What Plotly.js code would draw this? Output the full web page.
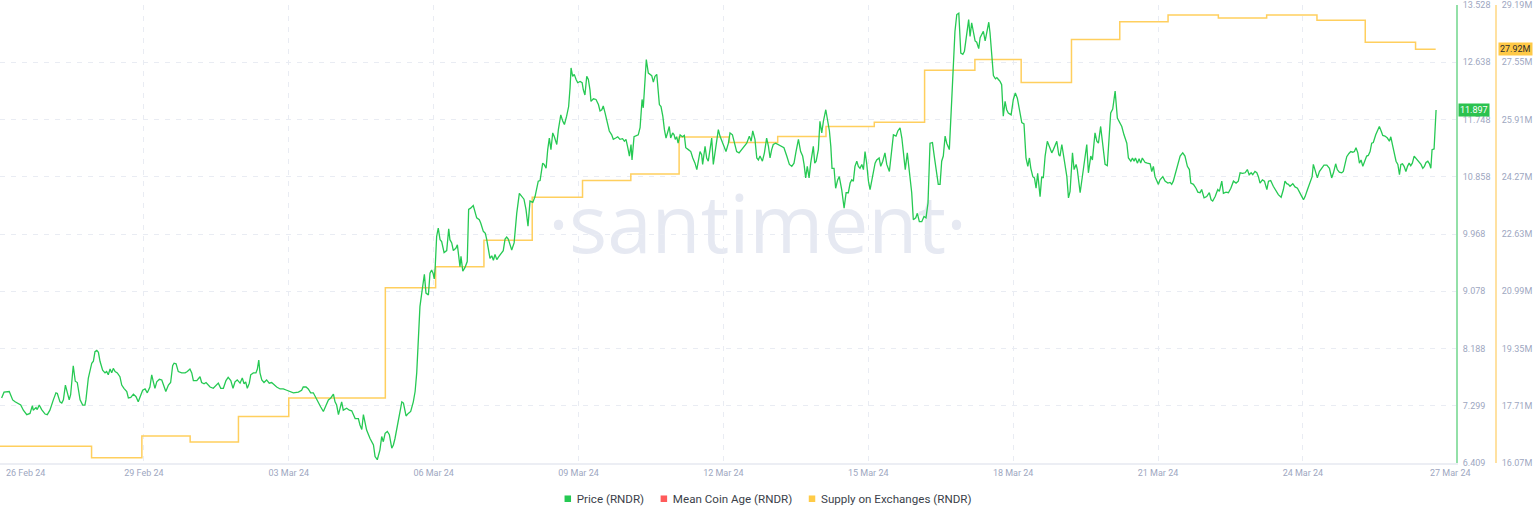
<!DOCTYPE html>
<html>
<head>
<meta charset="utf-8">
<script src="https://cdn.plot.ly/plotly-3.0.1.min.js"></script>
<style>
html,body{margin:0;padding:0;background:#fff;}
#chart{width:1536px;height:520px;}
</style>
</head>
<body>
<div id="chart"></div>
<script>
// ---- Data (hours after 2024-02-26 00:00 UTC) ----
const startDate = '2024-02-26';

const priceHours = [1.3,2.5,5.1,6.8,8.0,10.8,12.1,13.8,15.4,16.6,17.0,18.4,19.0,20.0,21.2,22.9,24.0,25.3,27.0,28.3,29.0,30.3,31.2,32.0,33.0,34.1,34.9,35.6,36.9,37.9,38.9,40.3,41.6,42.7,43.2,44.4,46.1,46.9,47.7,48.6,49.4,50.2,51.5,52.7,53.5,54.3,55.2,56.0,56.8,57.7,58.8,60.1,61.0,62.1,63.5,64.3,65.5,66.8,68.1,69.2,70.1,71.4,72.6,73.7,75.0,75.9,76.7,77.5,78.4,79.7,80.9,81.7,82.9,84.2,85.3,86.3,87.0,88.0,89.1,90.8,92.5,93.6,94.9,95.8,96.6,98.3,99.1,99.9,100.7,101.9,102.9,104.0,104.9,106.5,108.2,109.0,110.2,111.5,112.8,113.9,115.2,116.3,117.3,118.4,119.8,120.9,121.8,122.6,123.4,124.4,125.1,126.4,127.7,128.4,129.1,129.7,130.6,131.7,133.0,134.3,135.5,136.7,138.0,139.7,141.3,143.0,144.6,146.3,148.8,150.4,151.2,152.6,153.7,154.9,156.2,157.1,158.2,159.9,161.2,162.5,163.7,164.9,166.2,167.0,167.8,168.7,170.3,171.1,172.8,174.1,175.3,177.0,178.6,179.4,180.3,181.1,182.7,184.4,186.1,186.9,188.0,189.3,190.2,191.0,191.9,193.0,194.0,195.2,196.0,196.8,198.0,199.0,200.2,201.0,202.3,203.4,204.6,205.9,206.8,207.6,208.4,208.9,
209.2,210.1,210.9,211.4,212.2,213.4,214.2,215.0,215.8,216.3,216.8,217.5,218.3,219.2,220.0,221.2,222.5,223.5,224.1,225.0,225.8,227.1,227.8,228.3,229.1,229.6,230.5,231.6,232.7,233.4,234.4,235.7,236.6,237.4,238.7,239.4,240.7,241.7,242.4,243.2,244.0,244.9,245.7,246.5,247.4,248.2,249.3,250.6,251.5,252.3,253.1,254.0,254.8,256.0,257.3,258.6,259.8,260.9,261.9,262.9,263.9,265.3,266.4,267.3,268.0,268.9,269.4,270.2,270.9,271.9,272.7,273.5,274.3,275.2,276.0,277.2,278.0,279.2,280.2,281.0,282.1,283.1,283.8,284.3,285.1,285.9,286.8,287.6,288.8,289.8,290.4,291.2,292.1,292.9,293.7,294.2,295.4,296.7,297.9,298.7,299.6,300.3,301.2,302.3,303.3,304.5,305.3,306.5,307.5,308.6,309.9,310.8,311.6,312.5,313.3,314.1,314.6,315.6,316.9,317.7,318.6,319.6,320.2,321.1,321.7,322.7,323.5,324.4,325.2,326.0,326.9,327.7,328.2,329.0,329.9,330.7,331.5,332.5,333.1,333.8,334.8,335.5,336.1,336.8,337.5,338.5,339.6,340.6,341.3,342.6,343.8,344.8,345.9,346.8,347.6,348.4,349.2,349.7,350.9,351.7,352.5,353.4,354.2,355.0,355.9,356.7,357.5,358.3,359.2,360.3,361.3,362.5,363.3,364.5,365.8,366.6,367.8,369.1,370.3,371.6,372.9,373.8,374.6,375.7,376.6,377.4,378.2,379.4,380.4,381.5,382.4,383.2,384.0,384.8,386.0,387.3,389.0,390.1,391.5,392.8,394.0,395.1,396.1,397.3,398.4,399.4,400.1,400.9,401.7,402.6,403.4,404.1,404.7,405.4,406.1,407.2,408.0,408.9,409.7,410.9,411.7,412.7,413.4,414.0,415.0,415.8,416.8,417.6,418.8,420.0,421.0,422.1,423.0,423.8,424.6,425.4,426.3,427.1,427.9,428.8,429.6,430.4,431.2,432.1,432.9,433.7,434.5,435.4,436.2,437.4,438.2,439.2,440.3,441.2,442.5,443.7,444.5,445.8,446.7,447.8,448.7,449.5,450.4,451.4,452.4,453.6,454.4,455.6,456.4,457.4,458.6,459.7,460.7,461.7,462.7,463.9,464.8,466.0,466.8,467.7,468.5,469.3,470.2,471.0,472.3,473.5,474.3,475.1,476.0,477.0,478.0,479.0,479.8,480.9,481.9,482.6,483.4,484.2,485.1,485.9,486.9,487.6,488.6,489.2,490.1,490.9,491.9,492.5,493.4,494.2,495.2,495.9,496.7,497.5,498.3,499.1,500.0,500.8,501.6,503.0,504.1,505.1,506.1,507.1,508.3,509.4,510.4,511.3,512.1,512.8,513.8,514.6,515.4,516.2,517.4,518.2,519.0,519.9,521.0,522.0,523.2,524.0,524.8,525.7,526.7,527.3,528.2,529.0,530.0,530.7,531.5,532.3,533.5,534.3,535.3,535.9,537.3,538.1,538.9,539.7,540.6,541.4,542.6,543.4,543.9,544.7,545.6,546.4,547.5,548.5,549.7,550.8,551.8,552.5,553.5,554.7,555.8,557.1,558.0,559.1,560.5,561.3,562.5,563.3,564.1,564.8,565.8,566.6,567.4,568.2,569.6,570.7,572.1,572.9,573.7,574.5,575.4,576.2,577.0,578.4,579.5,580.9,582.0,582.8,583.6,584.5,585.6,587.0,588.3,589.4,590.6,591.6,592.3,593.6,594.9,595.8,596.9,597.7,598.9,600.2,601.5,602.4,603.2,604.4,605.7,606.5,607.7,608.5,609.8,611.0,612.2,613.5,614.8,615.9,616.8,618.1,619.3,620.4,621.3,622.3,623.1,624.2,625.1,625.9,626.7,627.9,628.9,630.1,630.9,632.0,633.3,634.7,635.8,637.2,638.3,639.1,640.0,640.8,641.6,643.0,644.1,645.3,646.3,647.5,648.3,649.1,650.3,651.6,652.6,653.2,654.1,655.2,656.2,657.4,658.5,659.9,661.2,662.3,663.2,664.3,665.1,666.1,667.3,668.1,668.9,669.8,670.9,671.8,672.8,673.6,674.4,675.3,676.1,676.9,677.8,678.9,679.7,680.5,681.4,682.2,683.0,684.2,685.2,686.0,686.9,687.7,688.8,690.0,691.0,691.7,692.7,693.5,694.3,695.2,696.0,696.7,697.5,698.3,699.2,700.0,700.8,701.6,702.4,703.3,704.2,705.1,705.9,706.7,707.6,708.4,709.2,710.1,710.9,711.6,712.2,713.2,714.2];

const priceValues = [7.42,7.51,7.52,7.39,7.36,7.31,7.23,7.16,7.18,7.30,7.23,7.27,7.24,7.31,7.24,7.17,7.16,7.23,7.39,7.50,7.49,7.36,7.34,7.39,7.62,7.47,7.39,7.47,7.92,7.68,7.66,7.39,7.31,7.31,7.39,7.73,7.96,7.99,8.14,8.16,8.13,7.99,7.85,7.81,7.83,7.78,7.87,7.81,7.88,7.83,7.81,7.75,7.62,7.57,7.52,7.42,7.43,7.48,7.44,7.36,7.44,7.54,7.56,7.50,7.59,7.78,7.67,7.57,7.67,7.71,7.70,7.62,7.52,7.62,7.66,7.92,7.96,7.95,7.83,7.81,7.81,7.83,7.87,7.81,7.69,7.69,7.73,7.75,7.66,7.64,7.66,7.62,7.59,7.57,7.62,7.65,7.57,7.57,7.69,7.74,7.69,7.57,7.67,7.70,7.65,7.73,7.64,7.67,7.57,7.65,7.78,7.81,7.81,7.87,8.01,7.81,7.70,7.66,7.70,7.65,7.66,7.62,7.59,7.56,7.56,7.54,7.52,7.50,7.51,7.54,7.59,7.59,7.56,7.50,7.50,7.44,7.39,7.28,7.21,7.31,7.39,7.42,7.48,7.36,7.31,7.16,7.36,7.23,7.26,7.23,7.22,7.10,7.10,7.00,6.93,7.16,6.92,6.79,6.69,6.51,6.46,6.61,6.82,6.74,6.87,6.90,6.85,6.64,6.69,6.79,7.00,7.21,7.36,7.34,7.14,7.18,7.21,7.36,7.52,7.81,8.27,8.48,
8.84,9.05,9.23,9.34,9.05,9.02,9.36,9.41,9.35,9.27,9.46,9.93,10.06,9.88,9.85,9.68,9.71,10.05,9.88,9.83,9.71,9.75,9.80,9.65,9.46,9.62,9.39,9.45,9.54,10.35,10.37,10.41,10.32,10.22,10.19,10.14,10.01,9.98,9.88,9.70,9.59,9.63,9.56,9.65,9.57,9.61,9.66,9.71,9.89,9.92,9.89,9.78,9.72,9.83,10.29,10.60,10.56,10.51,10.35,10.09,10.48,10.46,10.55,10.71,10.79,10.80,10.92,11.07,11.05,10.99,11.28,11.46,11.28,11.54,11.48,11.36,11.59,11.82,11.72,11.67,11.80,11.95,12.24,12.55,12.42,12.45,12.37,12.32,12.34,12.32,12.21,12.13,12.42,12.37,12.21,12.03,12.07,12.06,11.98,11.88,11.90,11.96,11.85,11.72,11.57,11.51,11.44,11.46,11.48,11.44,11.45,11.41,11.44,11.31,11.18,11.36,11.12,11.48,11.50,11.51,11.62,12.06,11.93,12.37,12.68,12.47,12.45,12.43,12.33,12.42,12.45,12.21,11.98,11.95,11.80,11.59,11.46,11.57,11.64,11.46,11.54,11.51,11.44,11.48,11.38,11.51,11.48,11.50,11.31,11.28,11.25,11.15,11.07,10.97,11.12,11.25,11.20,11.05,11.33,11.15,11.10,11.28,11.46,11.05,11.23,11.38,11.59,11.49,11.41,11.33,11.25,11.38,11.54,11.51,11.36,11.25,11.23,11.28,11.33,11.38,11.49,11.41,11.57,11.44,11.15,11.12,11.18,11.10,11.23,11.46,11.33,11.15,11.28,11.36,11.38,11.36,11.33,11.31,11.18,11.05,11.02,11.07,11.25,11.44,11.25,11.18,11.05,10.84,11.02,10.84,11.07,11.23,11.33,11.07,11.10,11.28,11.72,11.54,11.72,11.90,11.75,11.57,11.33,10.99,10.99,10.68,10.81,10.86,10.66,10.37,10.61,10.61,10.76,10.81,10.79,11.02,11.10,11.02,10.99,11.05,10.97,11.25,11.07,10.79,10.66,10.79,10.92,11.07,11.12,11.15,11.02,11.10,11.23,11.05,10.94,11.28,11.51,11.49,11.57,11.62,11.46,11.23,10.97,11.23,10.92,10.61,10.19,10.22,10.29,10.16,10.16,10.24,10.22,10.45,11.38,11.39,11.18,10.92,10.74,10.74,11.10,11.18,11.49,11.38,11.28,12.06,12.58,13.12,13.38,13.40,12.78,12.76,12.81,13.04,13.30,13.04,13.25,13.12,12.97,12.95,12.85,13.02,13.10,13.12,12.97,13.10,13.26,13.10,12.71,12.43,12.38,12.40,12.37,12.34,12.29,11.80,12.03,11.90,11.85,11.82,12.06,12.16,12.08,11.88,11.70,11.68,11.15,11.02,11.15,10.99,10.86,10.84,10.68,10.91,10.55,10.86,10.84,11.18,11.41,11.33,11.23,11.28,11.33,11.41,11.20,11.18,11.36,11.18,10.97,10.86,10.53,10.63,11.23,10.97,11.05,10.97,10.61,10.81,11.02,11.18,11.36,10.92,11.18,11.12,11.25,11.54,11.41,11.38,11.64,11.33,11.05,11.03,11.64,11.85,11.91,12.19,11.77,11.70,11.64,11.51,11.38,11.15,11.10,11.15,11.10,11.15,11.07,11.14,11.07,11.15,11.08,11.07,11.06,10.94,11.02,10.86,10.79,10.74,10.81,10.86,10.79,10.76,10.77,10.74,10.79,10.89,11.02,11.18,11.23,11.18,11.02,10.97,10.76,10.74,10.68,10.62,10.61,10.66,10.53,10.55,10.61,10.50,10.48,10.55,10.66,10.63,10.79,10.60,10.62,10.61,10.68,10.79,10.76,10.79,10.92,10.91,10.92,10.97,10.89,10.92,10.89,10.94,10.92,10.86,10.76,10.81,10.79,10.66,10.79,10.80,10.71,10.63,10.58,10.54,10.66,10.79,10.75,10.74,10.71,10.75,10.70,10.68,10.63,10.55,10.50,10.55,10.66,10.79,10.86,11.05,10.94,10.84,10.94,10.99,11.04,11.04,10.99,10.84,10.92,11.06,10.97,10.93,10.92,10.94,11.05,11.17,11.22,11.25,11.24,11.25,11.31,11.23,11.07,11.12,11.02,11.12,11.18,11.19,11.25,11.38,11.39,11.51,11.59,11.64,11.57,11.50,11.49,11.46,11.41,11.48,11.33,11.23,11.10,11.05,10.89,11.05,11.06,11.02,10.94,11.02,11.07,11.03,11.07,11.18,11.15,11.12,11.08,11.05,10.99,11.02,11.08,11.10,11.06,10.99,11.28,11.29,11.897];

// Supply on exchanges (millions), value holds from each hour mark until the next
const supplyHours  = [0,46,71,95,119,144,192,217,241,265,290,314,338,363,387,411,435,460,485,508,533,557,581,606,630,655,679,704,714];
const supplyValues = [16.55,16.22,16.84,16.67,17.40,17.93,21.09,21.69,22.45,23.68,24.16,24.35,25.41,25.25,25.42,25.71,25.83,27.32,27.63,26.97,28.20,28.71,28.90,28.82,28.90,28.75,28.12,27.92,27.92];

const priceTicks  = [6.409,7.299,8.188,9.078,9.968,10.858,11.748,12.638,13.528];
const supplyTicks = [16.07,17.71,19.35,20.99,22.63,24.27,25.91,27.55,29.19];
const dateTicks   = ['2024-02-26','2024-02-29','2024-03-03','2024-03-06','2024-03-09','2024-03-12','2024-03-15','2024-03-18','2024-03-21','2024-03-24','2024-03-27'];
const dateLabels  = ['26 Feb 24','29 Feb 24','03 Mar 24','06 Mar 24','09 Mar 24','12 Mar 24','15 Mar 24','18 Mar 24','21 Mar 24','24 Mar 24','27 Mar 24'];

const seriesNames  = ['Price (RNDR)','Mean Coin Age (RNDR)','Supply on Exchanges (RNDR)'];
const seriesColors = ['#26c953','#ff5b5b','#ffcb47'];

// ---- helpers ----
const base = Date.parse(startDate + 'T00:00:00Z');
function hourToDate(h){
  return new Date(base + Math.round(h*3600000)).toISOString().slice(0,19).replace('T',' ');
}

const tickFont = {family:'Roboto, sans-serif', size:9, color:'#9ea7bf'};
const gridCol = '#e9ecf3';
const nT = dateTicks.length;

const traces = [
  { // supply on base axis (drawn first, below)
    x: supplyHours.map(hourToDate), y: supplyValues,
    type:'scatter', mode:'lines', line:{color:'#ffcf5e', width:1.5, shape:'hv'},
    yaxis:'y', xaxis:'x', showlegend:false, hoverinfo:'skip'
  },
  { // price on overlay axis (drawn on top)
    x: priceHours.map(hourToDate), y: priceValues,
    type:'scatter', mode:'lines', line:{color:seriesColors[0], width:1.3},
    yaxis:'y2', xaxis:'x', showlegend:false, hoverinfo:'skip'
  }
];
seriesNames.forEach((n,i)=>{
  traces.push({x:[null], y:[null], type:'scatter', mode:'markers', name:n,
    marker:{symbol:'square', size:6.5, color:seriesColors[i]}, showlegend:true, hoverinfo:'skip'});
});

const pxDomainEnd = 1456/1496;
const layout = {
  width:1536, height:520,
  margin:{l:0, r:40, t:5, b:57},
  paper_bgcolor:'#ffffff', plot_bgcolor:'#ffffff',
  showlegend:true,
  legend:{orientation:'h', x:768/1496, xanchor:'center', y:-0.078, yanchor:'middle',
    font:{family:'Roboto, sans-serif', size:11.6, color:'#3b3f4a'}, itemwidth:30, traceorder:'normal',
    bgcolor:'rgba(0,0,0,0)'},
  xaxis:{
    type:'date', domain:[0, pxDomainEnd],
    range:[hourToDate(0.497), hourToDate(724.1)],
    tickvals: dateTicks.slice(1, nT-1), ticktext: dateLabels.slice(1, nT-1),
    showgrid:true, gridcolor:gridCol, griddash:'5px,6px', gridwidth:1,
    showline:true, linecolor:'#eceef4', linewidth:2,
    zeroline:false, ticks:'', tickfont:tickFont, fixedrange:true
  },
  yaxis:{ // supply
    range:[supplyTicks[0], supplyTicks[supplyTicks.length-1]],
    side:'right', anchor:'free', position:1,
    tickvals:supplyTicks, ticktext:supplyTicks.map(v=>v.toFixed(2)+'M'),
    showgrid:false, zeroline:false,
    showline:true, linecolor:'#ffe1a1', linewidth:2,
    ticks:'', tickfont:tickFont, ticklabelstandoff:3
  },
  yaxis2:{ // price
    range:[priceTicks[0], priceTicks[priceTicks.length-1]],
    overlaying:'y', side:'right', anchor:'x',
    tickvals:priceTicks, ticktext:priceTicks.map(v=>v.toFixed(3)),
    showgrid:true, gridcolor:gridCol, griddash:'5px,6px', gridwidth:1,
    zeroline:false, showline:true, linecolor:'#93e0a8', linewidth:2,
    ticks:'', tickfont:tickFont, ticklabelstandoff:3
  },
  annotations:[
    {xref:'paper', yref:'paper', x:757/1496, y:0.528, xanchor:'center', yanchor:'middle',
     text:'·santiment·', showarrow:false,
     font:{family:'Open Sans, sans-serif', size:80, color:'#e6e9f2'}},
    // first and last date labels (no gridline at these dates)
    {xref:'paper', yref:'paper', x:0, y:0, xanchor:'left', yanchor:'top', xshift:4, yshift:-3,
     text:dateLabels[0], showarrow:false, font:tickFont},
    {xref:'x', yref:'paper', x:dateTicks[nT-1], y:0, xanchor:'center', yanchor:'top', xshift:3, yshift:-3,
     text:dateLabels[nT-1], showarrow:false, font:tickFont},
    {xref:'paper', yref:'y2', x:pxDomainEnd, y:priceValues[priceValues.length-1], xanchor:'left', yanchor:'middle',
     xshift:2, text:priceValues[priceValues.length-1].toFixed(3), showarrow:false,
     bgcolor:'#2bc24f', borderpad:1, font:{family:'Roboto, sans-serif', size:9, color:'#ffffff'}},
    {xref:'paper', yref:'y', x:1, y:supplyValues[supplyValues.length-1], xanchor:'left', yanchor:'middle',
     xshift:2, text:supplyValues[supplyValues.length-1].toFixed(2)+'M', showarrow:false,
     bgcolor:'#ffc947', borderpad:1, font:{family:'Roboto, sans-serif', size:9, color:'#2d2d2d'}}
  ]
};

function getTranslate(el){
  const tr = (el && el.getAttribute('transform')) || '';
  const m = tr.match(/translate\(\s*([-\d.e]+)[\s,]+([-\d.e]+)/);
  return m ? [parseFloat(m[1]), parseFloat(m[2])] : [0,0];
}

// tighten the legend spacing: square, small gap, label, wider gap
function tightenLegend(gd){
  const legend = gd.querySelector('g.legend');
  if(!legend) return;
  const items = Array.from(legend.querySelectorAll('g.traces'));
  if(!items.length) return;
  const scroll = legend.querySelector('g.scrollbox');
  const originX = getTranslate(legend)[0] + getTranslate(scroll)[0];
  const textX = 29, afterText = 16.5, symLeft = 16.75;
  const widths = items.map(it=>{
    const t = it.querySelector('text.legendtext');
    if(t) t.setAttribute('x', textX);
    return t ? t.getComputedTextLength() : 60;
  });
  let total = 0;
  widths.forEach((w,i)=>{ total += (textX - symLeft) + w + (i < widths.length-1 ? afterText : 0); });
  const startAbs = 768 - total/2 - symLeft;
  let cur = startAbs;
  items.forEach((it,i)=>{
    const y = getTranslate(it)[1];
    it.setAttribute('transform', 'translate(' + (cur - originX) + ',' + y + ')');
    cur += (textX - symLeft) + widths[i] + afterText;
  });
  if(scroll) scroll.removeAttribute('clip-path');
}

Plotly.newPlot('chart', traces, layout, {displayModeBar:false, staticPlot:true}).then(gd=>{
  // put the watermark beneath the grid and lines
  const ann = gd.querySelector('.annotation[data-index="0"]');
  const below = gd.querySelector('.layer-below');
  if(ann && below){ below.appendChild(ann); }
  tightenLegend(gd);
});
</script>
</body>
</html>
